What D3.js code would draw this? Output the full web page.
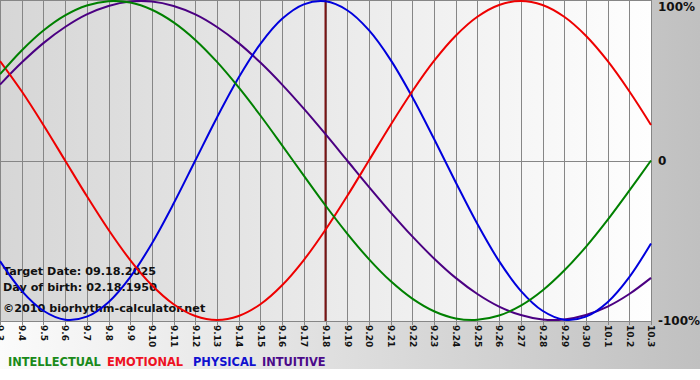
<!DOCTYPE html>
<html><head><meta charset="utf-8">
<script src="https://cdn.jsdelivr.net/npm/d3@7/dist/d3.min.js"></script>
<style>html,body{margin:0;padding:0;background:#fff;}svg{display:block;}</style>
</head><body>
<svg id="c" width="700" height="380"></svg>
<script>
const days = ["9.3","9.4","9.5","9.6","9.7","9.8","9.9","9.10","9.11","9.12","9.13","9.14","9.15","9.16","9.17","9.18","9.19","9.20","9.21","9.22","9.23","9.24","9.25","9.26","9.27","9.28","9.29","9.30","10.1","10.2","10.3"];
const physical = [-0.631,-0.817,-0.942,-0.998,-0.979,-0.888,-0.731,-0.520,-0.270,0,0.270,0.520,0.731,0.888,0.979,0.998,0.942,0.817,0.631,0.398,0.136,-0.136,-0.398,-0.631,-0.817,-0.942,-0.998,-0.979,-0.888,-0.731,-0.520];
const emotional = [0.624,0.434,0.223,0,-0.223,-0.434,-0.624,-0.782,-0.901,-0.975,-1,-0.975,-0.901,-0.782,-0.624,-0.434,-0.223,0,0.223,0.434,0.624,0.782,0.901,0.975,1,0.975,0.901,0.782,0.624,0.434,0.223];
const intellectual = [0.541,0.690,0.815,0.910,0.972,0.999,0.990,0.945,0.866,0.756,0.618,0.458,0.282,0.095,-0.095,-0.282,-0.458,-0.618,-0.756,-0.866,-0.945,-0.990,-0.999,-0.972,-0.910,-0.815,-0.690,-0.541,-0.372,-0.189,0];
const intuitive = [0.476,0.614,0.736,0.837,0.916,0.969,0.997,0.997,0.969,0.916,0.837,0.736,0.614,0.476,0.325,0.165,0,-0.165,-0.325,-0.476,-0.614,-0.736,-0.837,-0.916,-0.969,-0.997,-0.997,-0.969,-0.916,-0.837,-0.736];
const targetDay = "9.18";
const yTicks = [1, 0, -1];
const yTickLabels = ["100%", "0", "-100%"];
const seriesNames = ["INTELLECTUAL","EMOTIONAL","PHYSICAL","INTUITIVE"];
const seriesColors = ["#008000","#ee0000","#0000dd","#4b0082"];
const legendColors = ["#1a8a1a","#ee1122","#1010d0","#4b0a8a"];
const infoLines = ["Target Date: 09.18.2025","Day of birth: 02.18.1950","©2010 biorhythm-calculator.net"];

const svg = d3.select("#c");
const W = 651, H = 321;
const font = "'DejaVu Sans', Verdana, sans-serif";

const defs = svg.append("defs");
const g1 = defs.append("linearGradient").attr("id","bg").attr("x1","0").attr("x2","1").attr("y1","0").attr("y2","0");
g1.append("stop").attr("offset","0").attr("stop-color","#fbfbfb");
g1.append("stop").attr("offset","1").attr("stop-color","#c0c0c0");
const g2 = defs.append("linearGradient").attr("id","pl").attr("x1","0").attr("x2","1").attr("y1","0").attr("y2","0");
g2.append("stop").attr("offset","0").attr("stop-color","#d6d6d6");
g2.append("stop").attr("offset","1").attr("stop-color","#fefefe");

svg.append("rect").attr("x",0).attr("y",0).attr("width",700).attr("height",369).attr("fill","url(#bg)");
svg.append("rect").attr("x",0).attr("y",0).attr("width",W).attr("height",H).attr("fill","url(#pl)");

const x = d3.scaleLinear().domain([0, days.length-1]).range([0, W]);
const y = d3.scaleLinear().domain([-1, 1]).range([H-1, 1]);

// vertical grid
svg.append("g").selectAll("line").data(days).join("line")
  .attr("x1",(d,i)=>Math.round(x(i))+0.5).attr("x2",(d,i)=>Math.round(x(i))+0.5)
  .attr("y1",0).attr("y2",H+4).attr("stroke","#868686").attr("stroke-width",1);
// top and zero lines
svg.append("line").attr("x1",0).attr("x2",W).attr("y1",0.5).attr("y2",0.5).attr("stroke","#868686");
svg.append("line").attr("x1",0).attr("x2",W).attr("y1",Math.round(y(0))+0.5).attr("y2",Math.round(y(0))+0.5).attr("stroke","#868686");
svg.append("line").attr("x1",0).attr("x2",W).attr("y1",H+0.5).attr("y2",H+0.5).attr("stroke","#868686");

// x axis labels
const xAxis = d3.axisBottom(x).tickValues(d3.range(days.length)).tickFormat(i=>days[i]).tickSize(0);
const ax = svg.append("g").attr("transform",`translate(0,${H+4})`).call(xAxis);
ax.select(".domain").remove();
ax.selectAll("text").attr("transform","rotate(90)").attr("x",0).attr("y",0).attr("dy","0.35em")
  .attr("text-anchor","start")
  .style("font-family",font).style("font-size","9px").style("font-weight","bold").attr("fill","#111");

// right axis labels
const ya = d3.axisRight(y).tickValues(yTicks).tickFormat((d,i)=>yTickLabels[i]).tickSize(0);
const ay = svg.append("g").attr("transform",`translate(${W+4},0)`).call(ya);
ay.select(".domain").remove();
ay.selectAll("text").style("font-family",font).style("font-size","12px").style("font-weight","bold").attr("fill","#111")
  .attr("dy",(d)=> d===1 ? "0.75em" : "0.35em");

// info text
svg.append("g").selectAll("text").data(infoLines).join("text")
  .attr("x",3).attr("y",(d,i)=>[275,291,312][i])
  .text(d=>d).style("font-family",font).style("font-size","11.2px").style("font-weight","bold").attr("fill","#111");

// target marker
const ti = days.indexOf(targetDay);
svg.append("line").attr("x1",x(ti)).attr("x2",x(ti)).attr("y1",0).attr("y2",H)
  .attr("stroke","#7a1414").attr("stroke-width",2);

// curves
const series = [intellectual, emotional, physical, intuitive];
const line = d3.line().x((d,i)=>x(i)).y(d=>y(d)).curve(d3.curveCatmullRom.alpha(0.5));
const plot = svg.append("g");
plot.append("clipPath").attr("id","clip").append("rect").attr("x",0).attr("y",-2).attr("width",W+1).attr("height",H+4);
[3,2,1,0].forEach(k=>{
  plot.append("path").datum(series[k]).attr("d",line).attr("fill","none")
    .attr("stroke",seriesColors[k]).attr("stroke-width",2).attr("clip-path","url(#clip)");
});

// legend
const legendX = [8, 107, 193, 262];
svg.append("g").selectAll("text").data(seriesNames).join("text")
  .attr("x",(d,i)=>legendX[i]).attr("y",366)
  .text(d=>d).attr("fill",(d,i)=>legendColors[i])
  .style("font-family",font).style("font-size","11.4px").style("font-weight","bold");
</script>
</body></html>
